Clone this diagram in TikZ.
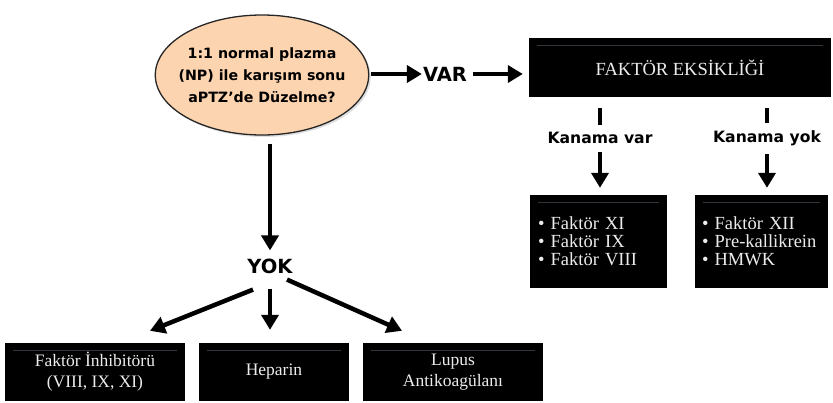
\documentclass[tikz,border=0pt]{standalone}
\usepackage{fontspec}
\setmainfont{Liberation Serif}
\newfontfamily\labelfont{DejaVu Sans}
\usetikzlibrary{arrows.meta,positioning,shapes.geometric,shadows}

\definecolor{peach}{RGB}{252,212,176}
\definecolor{boxline}{RGB}{48,54,60}
\definecolor{boxtext}{RGB}{236,236,236}

\tikzset{
  arr/.style={line width=4.5pt,-{Triangle[length=15pt,width=17pt]}},
  bar/.style={line width=4.5pt},
  darkbox/.style={rectangle,fill=black,text=boxtext,inner sep=0pt,align=center,
    font=\fontsize{18}{21}\selectfont,
    path picture={\draw[boxline,line width=0.8pt]
      ([xshift=8pt,yshift=-7pt]path picture bounding box.north west) --
      ([xshift=-8pt,yshift=-7pt]path picture bounding box.north east);}},
  listbox/.style={darkbox,minimum height=93pt,align=left,
    font=\fontsize{18.5}{18}\selectfont,
    execute at begin node={\hyphenpenalty=10000 \exhyphenpenalty=10000 }},
  word/.style={font=\labelfont\bfseries\fontsize{19.5}{20}\selectfont,inner sep=1pt},
}

\begin{document}
\begin{tikzpicture}[x=1pt,y=-1pt]
\useasboundingbox (0,0) rectangle (833,402);

% question
\node[ellipse,draw=black!85,line width=1.3pt,fill=peach,minimum width=212pt,minimum height=120pt,
  inner xsep=-8pt,align=center,font=\labelfont\bfseries\fontsize{14.2}{22}\selectfont,
  drop shadow={opacity=0.25,shadow xshift=2pt,shadow yshift=-2pt}] (q) at (262,75)
  {1:1 normal plazma\\(NP) ile karışım sonu\\aPTZ’de Düzelme?};

% VAR branch
\node[word] (var) at (445,74) {VAR};
\node[darkbox,minimum width=302pt,minimum height=59pt,font=\fontsize{18.5}{21}\selectfont] (eks) at (680,67.5) {FAKTÖR EKSİKLİĞİ};

\node[word,font=\labelfont\bfseries\fontsize{15.6}{20}\selectfont] (kv) at (600,138) {Kanama var};
\node[word,font=\labelfont\bfseries\fontsize{15.6}{20}\selectfont] (ky) at (767,138) {Kanama yok};

\node[listbox,text width=121pt,inner xsep=8pt] (f1) at (598.5,241.5)
  {\textbullet~Faktör XI\\\textbullet~Faktör IX\\\textbullet~Faktör VIII};
\node[listbox,text width=119pt,inner xsep=7pt] (f2) at (761.5,241.5)
  {\textbullet~Faktör XII\\\textbullet~Pre-kallikrein\\\textbullet~HMWK};

% YOK branch
\node[word] (yok) at (270,266) {YOK};
\node[darkbox,minimum width=180pt,minimum height=58pt,font=\fontsize{17.5}{21}\selectfont] (inh) at (95,372) {Faktör İnhibitörü\\(VIII, IX, XI)};
\node[darkbox,minimum width=150pt,minimum height=58pt,font=\fontsize{17.5}{21}\selectfont] (hep) at (274,372) {Heparin};
\node[darkbox,minimum width=180pt,minimum height=58pt,font=\fontsize{17.5}{21}\selectfont] (lup) at (453,372) {Lupus\\Antikoagülanı};

\draw[arr,shorten <=2pt] (q.east |- var) -- (var.west);
\draw[arr,shorten <=5pt,shorten >=6pt] (var.east) -- (eks.west |- var);

\draw[bar,shorten <=11pt,shorten >=6pt] (eks.south -| kv) -- (kv.north);
\draw[bar,shorten <=11pt,shorten >=6pt] (eks.south -| ky) -- (ky.north);
\draw[arr,shorten <=7pt,shorten >=7pt] (kv.south) -- (f1.north -| kv);
\draw[arr,shorten <=7pt,shorten >=7pt] (ky.south) -- (f2.north -| ky);

\draw[arr,shorten <=8pt,shorten >=7pt] (q.south -| yok) -- (yok.north);
\draw[arr] ([xshift=-17pt,yshift=-15pt]yok.south) -- ([xshift=55pt,yshift=12pt]inh.north);
\draw[arr,shorten <=14pt,shorten >=13pt] (yok.south) -- (hep.north -| yok);
\draw[arr] ([xshift=17pt,yshift=-5pt]yok.south) -- ([xshift=-51pt,yshift=12pt]lup.north);
\end{tikzpicture}
\end{document}
